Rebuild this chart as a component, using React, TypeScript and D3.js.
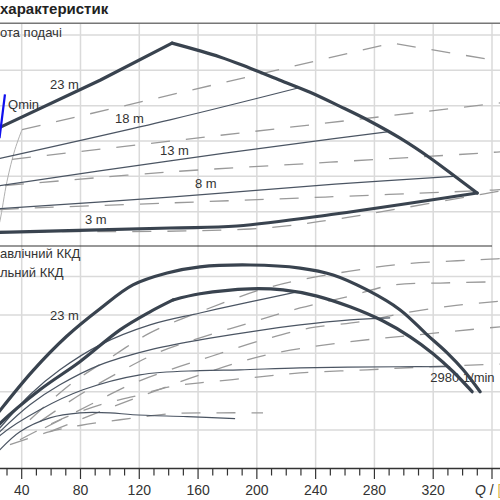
import React from 'react';
import * as d3 from 'd3';

type P = [number, number];

// Axis
const qTicks = [40, 80, 120, 160, 200, 240, 280, 320, 360];
const qMinor = d3.range(10, 370, 10);
const hGrid = [5, 10, 15, 20, 25, 30];
const etaGrid = [10, 20, 30, 40, 50];

// Top panel (Q [m3/h], H [m]) – solid family
const envUpperLeft: P[] = [[25.9, 17.0], [93.3, 23.6], [142.3, 28.85]];
const envRight: P[] = [[142.3, 28.85], [174.9, 26.9], [195.4, 25.3], [215.8, 23.6], [236.2, 21.9], [256.6, 19.9], [277.0, 17.8], [297.5, 15.4], [317.9, 12.6], [336.3, 9.76], [349.9, 7.64]];
const envBottom: P[] = [[349.9, 7.64], [253.2, 4.67], [186.5, 2.97], [140.9, 2.69], [20.0, 2.05]];
const line18: P[] = [[22.0, 12.4], [140.9, 18.0], [228.0, 22.5]];
const line13: P[] = [[22.0, 8.6], [140.9, 12.2], [251.2, 15.3], [288.6, 16.3]];
const line8: P[] = [[22.0, 5.4], [140.9, 7.07], [253.2, 8.9], [333.6, 10.0]];
const qminLine: P[] = [[24.9, 15.4], [28.6, 21.6]];

// Top panel – dashed family
const dashA: P[] = [[40.2, 16.6], [292.0, 28.85], [356.7, 26.6], [372.4, 26.0]];
const dashB: P[] = [[33.4, 12.4], [372.4, 20.55]];
const dashC: P[] = [[28.6, 8.7], [49.0, 9.05], [138.9, 10.6], [249.8, 12.0], [360.8, 13.4], [372.4, 13.6]];
const dashD: P[] = [[25.2, 5.3], [47.7, 5.52], [138.9, 6.22], [246.4, 7.07], [360.8, 8.06], [372.4, 8.2]];
const dashE: P[] = [[20.0, 2.2], [195.4, 2.55], [254.6, 3.96], [299.5, 5.52], [349.9, 7.35], [365.6, 7.92], [372.4, 8.1]];
const qminDashed: P[] = [[23.0, 2.0], [25.2, 3.7], [30.0, 9.3], [35.4, 13.8], [40.2, 16.6]];

// Bottom panel (Q, efficiency %) – solid family
const effHydraulic: P[] = [[20.0, 12.5], [25.2, 15.1], [47.7, 25.5], [70.8, 34.5], [93.3, 41.6], [115.7, 47.8], [138.9, 50.9], [161.3, 52.5], [195.4, 53.0], [229.4, 52.2], [251.9, 50.4], [275.0, 46.5], [297.5, 41.3], [315.9, 34.8], [329.5, 30.1], [340.4, 25.7], [351.9, 20.0]];
const effTotalA: P[] = [[20.0, 9.5], [25.2, 11.7], [52.4, 20.5], [79.6, 27.8], [106.9, 36.1], [127.3, 40.8], [143.0, 43.9]];
const effTotalB: P[] = [[143.0, 43.9], [161.3, 45.5], [195.4, 46.8], [217.8, 46.5], [241.0, 44.9], [263.4, 42.1], [285.9, 38.4], [304.3, 34.3], [319.9, 29.9], [333.6, 25.2], [346.5, 20.0]];
const eff18: P[] = [[20.0, 8.5], [25.2, 10.6], [45.6, 19.2], [66.0, 25.7], [93.3, 32.2], [127.3, 37.4], [161.3, 40.5], [195.4, 43.4], [227.4, 46.0]];
const eff13: P[] = [[20.0, 7.5], [25.2, 9.6], [45.6, 16.6], [66.0, 21.8], [93.3, 27.0], [127.3, 30.9], [161.3, 33.5], [195.4, 35.6], [229.4, 37.4], [263.4, 38.7], [290.7, 39.2]];
const eff8: P[] = [[20.0, 6.5], [25.2, 8.6], [52.4, 15.3], [81.7, 20.5], [120.5, 24.4], [161.3, 25.5], [188.6, 25.7], [229.4, 26.2], [297.5, 26.5], [331.5, 26.5]];
const effMin: P[] = [[20.0, 2.5], [25.2, 4.9], [38.8, 9.6], [59.2, 13.2], [79.6, 14.5], [100.1, 14.5], [115.7, 14.0], [152.5, 13.5], [185.2, 13.0]];

// Bottom panel – dashed family
const effDashA: P[] = [[45.6, 12.7], [72.8, 21.8], [100.1, 28.8], [127.3, 35.3], [161.3, 40.8], [202.2, 46.5], [229.4, 49.1], [263.4, 51.4], [297.5, 53.2], [331.5, 54.0], [358.7, 54.5], [372.4, 54.8]];
const effDashB: P[] = [[52.4, 12.2], [79.6, 19.2], [106.9, 25.2], [134.1, 30.4], [161.3, 34.0], [197.4, 38.2], [229.4, 41.8], [263.4, 44.9], [292.7, 47.8], [324.7, 48.3], [358.7, 48.6], [372.4, 48.8]];
const effDashC: P[] = [[55.8, 10.6], [86.5, 16.6], [113.7, 21.8], [140.9, 25.7], [168.1, 29.1], [204.2, 33.5], [236.2, 36.6], [270.3, 38.2], [297.5, 40.3], [331.5, 42.3], [365.6, 43.6], [372.4, 43.9]];
const effDashD: P[] = [[59.2, 9.6], [93.3, 14.8], [127.3, 19.7], [161.3, 24.4], [206.9, 29.6], [256.6, 32.7], [309.1, 34.8], [365.6, 36.9], [372.4, 37.1]];
const effDashE: P[] = [[38.8, 7.5], [66.0, 12.7], [93.3, 16.6], [115.7, 18.7], [140.9, 21.3], [161.3, 22.3], [195.4, 23.6], [229.4, 24.9], [275.0, 25.7], [317.9, 26.5], [372.4, 27.3]];
const effDashF: P[] = [[32.0, 6.2], [59.2, 9.6], [79.6, 11.2], [106.9, 12.7], [143.0, 14.3], [174.9, 14.5], [204.2, 14.5]];

const x = d3.scaleLinear().domain([40, 360]).range([21.7, 492]);
const yTop = d3.scaleLinear().domain([0, 30]).range([247, 35]);
const yBot = d3.scaleLinear().domain([0, 50]).range([468.5, 276.5]);

const FONT = '"Liberation Sans", Arial, sans-serif';
const THICK = '#39434f';
const THIN = '#4b5563';
const DASH = '#9a9a9a';
const GRID = '#dadada';

export default function App() {
  const lt = (curve: any) => d3.line<P>().x(d => x(d[0])).y(d => yTop(d[1])).curve(curve);
  const lb = (curve: any) => d3.line<P>().x(d => x(d[0])).y(d => yBot(d[1])).curve(curve);
  const cr = d3.curveCatmullRom.alpha(0.5);
  const topLin = lt(d3.curveLinear);
  const topCr = lt(cr);
  const botCr = lb(cr);

  const dashProps = { fill: 'none', stroke: DASH, strokeWidth: 1.3, strokeDasharray: '19,16' };
  const thinProps = { fill: 'none', stroke: THIN, strokeWidth: 1.2 };
  const thickProps = { fill: 'none', stroke: THICK, strokeWidth: 3.2, strokeLinejoin: 'round' as const, strokeLinecap: 'round' as const };
  const lbl = { fontFamily: FONT, fontSize: 13, fill: '#333' };

  return (
    <svg width={500} height={500} style={{ position: 'absolute', left: 0, top: 0, background: '#fff' }}>
      <defs>
        <clipPath id="cTop"><rect x={0} y={24} width={500} height={222} /></clipPath>
        <clipPath id="cBot"><rect x={0} y={247} width={500} height={221} /></clipPath>
      </defs>
      <rect x={0} y={0} width={500} height={500} fill="#fff" />
      {/* grid */}
      {qTicks.map(q => (
        <line key={'vg' + q} x1={x(q)} x2={x(q)} y1={24} y2={468} stroke={GRID} strokeWidth={1.5} />
      ))}
      {hGrid.map(h => (
        <line key={'hg' + h} x1={0} x2={500} y1={yTop(h)} y2={yTop(h)} stroke={GRID} strokeWidth={1.5} />
      ))}
      {etaGrid.map(e => (
        <line key={'eg' + e} x1={0} x2={500} y1={yBot(e)} y2={yBot(e)} stroke={GRID} strokeWidth={1.5} />
      ))}
      {/* title */}
      <text x={0} y={14} fontFamily={FONT} fontSize={15} fontWeight="bold" fill="#222">характеристик</text>
      <line x1={0} x2={500} y1={23.3} y2={23.3} stroke="#777" strokeWidth={1.5} />
      <text x={0} y={37} {...lbl}>ота подачі</text>

      {/* top panel */}
      <g clipPath="url(#cTop)">
        <path d={topCr(qminDashed) || ''} fill="none" stroke="#b0b0b0" strokeWidth={1} />
        <path d={topLin(dashA) || ''} {...dashProps} />
        <path d={topLin(dashB) || ''} {...dashProps} />
        <path d={topCr(dashC) || ''} {...dashProps} />
        <path d={topCr(dashD) || ''} {...dashProps} />
        <path d={topCr(dashE) || ''} {...dashProps} />
        <path d={topCr(line18) || ''} {...thinProps} />
        <path d={topCr(line13) || ''} {...thinProps} />
        <path d={topCr(line8) || ''} {...thinProps} />
        <path d={topLin(envUpperLeft) || ''} {...thickProps} />
        <path d={topCr(envRight) || ''} {...thickProps} />
        <path d={topCr(envBottom) || ''} {...thickProps} />
        <path d={topLin(qminLine) || ''} fill="none" stroke="#1010ee" strokeWidth={2.2} />
        <text x={x(30.7)} y={yTop(19.5)} {...lbl}>Qmin</text>
        <text x={x(59.2)} y={yTop(22.35)} {...lbl}>23 m</text>
        <text x={x(103.5)} y={yTop(17.5)} {...lbl}>18 m</text>
        <text x={x(134.1)} y={yTop(13.0)} {...lbl}>13 m</text>
        <text x={x(157.9)} y={yTop(8.35)} {...lbl}>8 m</text>
        <text x={x(83.1)} y={yTop(3.25)} {...lbl}>3 m</text>
      </g>
      <line x1={0} x2={492} y1={246} y2={246} stroke="#333" strokeWidth={1.2} />

      {/* bottom panel */}
      <text x={0} y={258} {...lbl}>авлічний ККД</text>
      <text x={0} y={277} {...lbl}>льний ККД</text>
      <g clipPath="url(#cBot)">
        <text x={x(318.0)} y={yBot(22.5)} {...lbl}>2980 1/min</text>
        <text x={x(59.2)} y={yBot(38.6)} {...lbl}>23 m</text>
        <path d={botCr(effDashA) || ''} {...dashProps} />
        <path d={botCr(effDashB) || ''} {...dashProps} />
        <path d={botCr(effDashC) || ''} {...dashProps} />
        <path d={botCr(effDashD) || ''} {...dashProps} />
        <path d={botCr(effDashE) || ''} {...dashProps} />
        <path d={botCr(effDashF) || ''} {...dashProps} />
        <path d={botCr(eff18) || ''} {...thinProps} />
        <path d={botCr(eff13) || ''} {...thinProps} />
        <path d={botCr(eff8) || ''} {...thinProps} />
        <path d={botCr(effMin) || ''} {...thinProps} />
        <path d={botCr(effHydraulic) || ''} {...thickProps} />
        <path d={botCr(effTotalA) || ''} {...thickProps} />
        <path d={botCr(effTotalB) || ''} {...thickProps} />
      </g>

      {/* x axis */}
      <line x1={0} x2={500} y1={468.5} y2={468.5} stroke="#333" strokeWidth={1.5} />
      {qMinor.map(q => (
        <line key={'mt' + q} x1={x(q)} x2={x(q)} y1={468.5} y2={q % 40 === 0 ? 479 : 475.5} stroke="#333" strokeWidth={1.2} />
      ))}
      {qTicks.filter(q => q < 360).map(q => (
        <text key={'tl' + q} x={x(q)} y={495} textAnchor="middle" fontFamily={FONT} fontSize={14} fill="#333">{q}</text>
      ))}
      <text x={475} y={495} fontFamily={FONT} fontSize={14} fill="#333"><tspan fontStyle="italic">Q</tspan> / <tspan fill="#d9b44a">[</tspan></text>
    </svg>
  );
}
